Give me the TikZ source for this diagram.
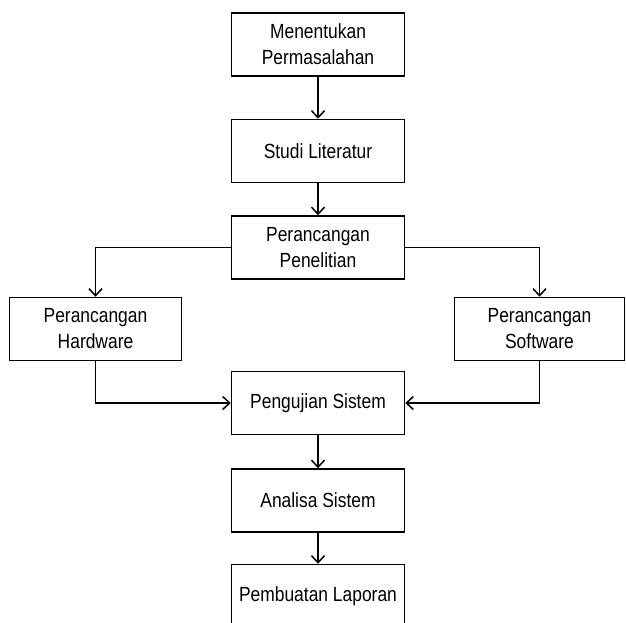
\documentclass[tikz,border=0pt]{standalone}
\usepackage{fontspec}
\setmainfont{Liberation Sans}[FakeStretch=0.85]
\usetikzlibrary{positioning}
\usetikzlibrary {arrows.meta}
\tikzset{langkah/.style={rectangle,draw=black,fill=white,line width=1.5pt,
inner sep=2pt,minimum height=63pt, minimum width=173pt,align=center,
font=\fontsize{20.5}{26}\selectfont}}
\tikzset{alur/.style={line width=1.5pt,-{Straight Barb[length=7pt,width=13pt,line width=1.5pt]}}}

\begin{document}
\begin{tikzpicture}
    \useasboundingbox (0,0) rectangle (626pt,-623pt);

        \node[langkah] (masalah) at (318pt,-44.5pt) {Menentukan\\Permasalahan};
        \node[langkah] (studi) [below=42pt of masalah] {Studi Literatur};
        \node[langkah] (rancang) [below=32pt of studi] {Perancangan\\Penelitian};

        \node[langkah, minimum width=172pt] (hardware) at ([xshift=-222.5pt,yshift=-81.5pt]rancang) {Perancangan\\Hardware};
        \node[langkah, minimum width=170pt] (software) at ([xshift=221.5pt,yshift=-81.5pt]rancang) {Perancangan\\Software};

        \node[langkah] (uji) [below=91pt of rancang] {Pengujian Sistem};
        \node[langkah] (analisa) [below=33pt of uji] {Analisa Sistem};
        \node[langkah] (laporan) [below=31pt of analisa] {Pembuatan Laporan};

        \draw [alur] (masalah) -- (studi);
        \draw [alur] (studi) -- (rancang);
        \draw [alur] (rancang.west) -| (hardware.north);
        \draw [alur] (rancang.east) -| (software.north);
        \draw [alur] (hardware.south) |- (uji.west);
        \draw [alur] (software.south) |- (uji.east);
        \draw [alur] (uji) -- (analisa);
        \draw [alur] (analisa) -- (laporan);

    \end{tikzpicture}
\end{document}
